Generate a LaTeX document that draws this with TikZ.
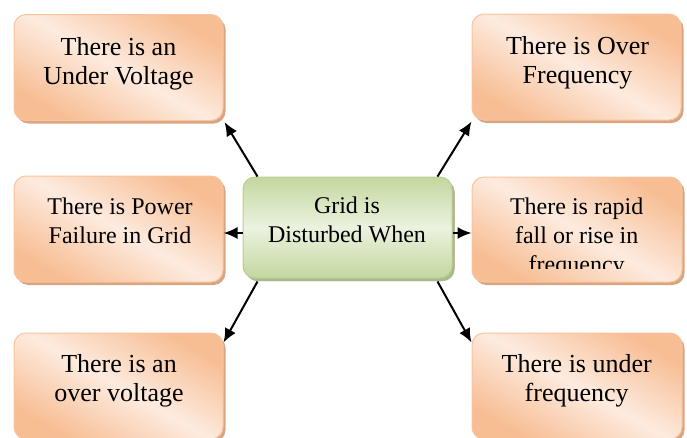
\documentclass[tikz,border=0pt]{standalone}
\usepackage{fontspec}
\setmainfont{Liberation Serif}
\usetikzlibrary{arrows.meta,shadows,calc}
\definecolor{orD}{HTML}{F7BD93}
\definecolor{orL}{HTML}{FDEBDF}
\definecolor{orB}{HTML}{F8C49E}
\definecolor{orS}{HTML}{D8A583}
\definecolor{grD}{HTML}{C3D79F}
\definecolor{grL}{HTML}{EBF2DF}
\definecolor{grB}{HTML}{B8CF90}
\definecolor{grS}{HTML}{A8B990}
\begin{document}
\begin{tikzpicture}[x=1pt,y=-1pt,
  obox/.style={draw=orB, line width=1pt, rounded corners=12pt, minimum width=209pt,
    minimum height=106pt, inner sep=0pt, top color=orD, bottom color=orD, middle color=orL,
    shading angle=-30, drop shadow={shadow xshift=2.5pt, shadow yshift=-3pt, fill=orS, opacity=1}},
  gbox/.style={obox, draw=grB, top color=grD, bottom color=grD, middle color=grL,
    drop shadow={shadow xshift=2.5pt, shadow yshift=-3pt, fill=grS, opacity=1}},
  otxt/.style={font=\fontsize{26}{29}\selectfont, align=center, anchor=base, inner sep=0pt},
  mtxt/.style={font=\fontsize{24}{29}\selectfont, align=center, anchor=base, inner sep=0pt},
  arr/.style={line width=2pt, -{Latex[length=14pt,width=12pt]}}]
\useasboundingbox (0,0) rectangle (687,437);
\begin{scope}
\clip (0,0) rectangle (687,437);
\node[obox] (tl) at (118.5,67.5) {};
\node[obox] (tr) at (576.5,67) {};
\node[obox] (ml) at (118.5,229) {};
\node[gbox, minimum height=101pt] (c) at (347.5,227.5) {};
\node[obox, minimum width=210pt, minimum height=105pt] (mr) at (577,229.5) {};
\node[obox] (bl) at (118.5,386) {};
\node[obox, minimum width=210pt] (br) at (577,386) {};

\node[otxt] (tlt) at (118.5,84) {There is an\\Under Voltage};
\node[otxt] (trt) at (577.5,83) {There is Over\\Frequency};
\node[mtxt] (mlt) at (120,243) {There is Power\\Failure in Grid};
\node[mtxt] (ct) at (347,242) {Grid is\\Disturbed When};
\begin{scope}
\clip (473,178) rectangle (681,268);
\node[mtxt] (mrt) at (576.7,272) {There is rapid\\fall or rise in\\frequency};
\end{scope}
\node[otxt] (blt) at (119,401) {There is an\\over voltage};
\node[otxt] (brt) at (576.7,401) {There is under\\frequency};

\draw[arr] ($(c.north west)+(15,0)$) -- ($(tl.south east)+(1,1)$);
\draw[arr] ($(c.north east)+(-15,0)$) -- ($(tr.south west)+(0,1)$);
\draw[arr] ($(c.west)+(0,5.5)$) -- ($(ml.east)+(0,4)$);
\draw[arr] ($(c.east)+(0,5.5)$) -- ($(mr.west)+(0,3.5)$);
\draw[arr] ($(c.south west)+(15,3)$) -- ($(bl.north east)+(0,10)$);
\draw[arr] ($(c.south east)+(-15,3)$) -- ($(br.north west)+(0,10)$);
\end{scope}
\end{tikzpicture}
\end{document}
